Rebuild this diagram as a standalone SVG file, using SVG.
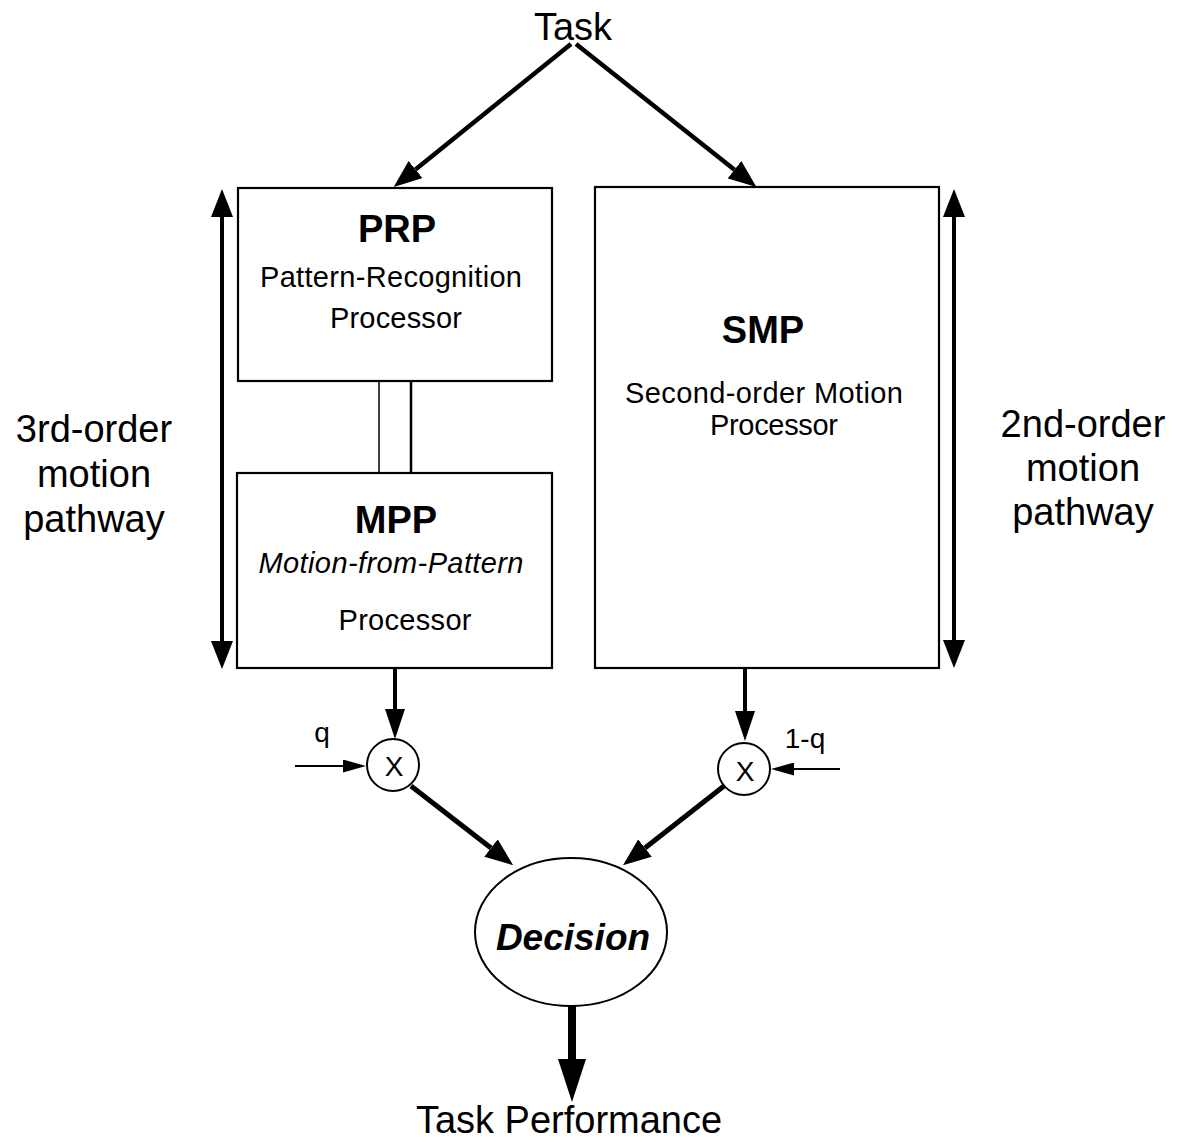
<svg xmlns="http://www.w3.org/2000/svg" width="1178" height="1148" viewBox="0 0 1178 1148">
<style>
text{font-family:"Liberation Sans",Arial,sans-serif;fill:#000;text-anchor:middle}
.big{font-size:38px}
.title{font-size:38px;font-weight:bold}
.sub{font-size:29px}
.it{font-style:italic}
.dec{font-size:37px;font-weight:bold;font-style:italic}
.sm{font-size:28px}
.box{fill:#fff;stroke:#000;stroke-width:2.2}
.ln{stroke:#000;fill:none}
</style>
<defs>
<marker id="arr" markerUnits="userSpaceOnUse" markerWidth="28" markerHeight="22" refX="0" refY="11" orient="auto-start-reverse" viewBox="0 0 28 22"><path d="M0,0 L28,11 L0,22 z" fill="#000"/></marker>
<marker id="arrD" markerUnits="userSpaceOnUse" markerWidth="30" markerHeight="20" refX="0" refY="10" orient="auto" viewBox="0 0 30 20"><path d="M0,0 L30,10 L0,20 z" fill="#000"/></marker>
<marker id="arrS" markerUnits="userSpaceOnUse" markerWidth="23" markerHeight="13" refX="0" refY="6.5" orient="auto" viewBox="0 0 23 13"><path d="M0,0 L23,6.5 L0,13 z" fill="#000"/></marker>
<marker id="arrB" markerUnits="userSpaceOnUse" markerWidth="43" markerHeight="28" refX="0" refY="14" orient="auto" viewBox="0 0 43 28"><path d="M0,0 L43,14 L0,28 z" fill="#000"/></marker>
</defs>
<rect width="1178" height="1148" fill="#fff"/>

<g id="task"><text class="big" x="573" y="40">Task</text></g>

<g id="PRP">
<rect class="box" x="238" y="188" width="314" height="193"/>
<text class="title" x="397" y="242">PRP</text>
<text class="sub" x="391" y="287" textLength="262" lengthAdjust="spacing">Pattern-Recognition</text>
<text class="sub" x="396" y="328" textLength="132" lengthAdjust="spacing">Processor</text>
</g>

<g id="MPP">
<rect class="box" x="237" y="473" width="315" height="195"/>
<text class="title" x="396" y="533">MPP</text>
<text class="sub it" x="391" y="573" textLength="265" lengthAdjust="spacing">Motion-from-Pattern</text>
<text class="sub" x="405" y="630" textLength="133" lengthAdjust="spacing">Processor</text>
</g>

<g id="SMP">
<rect class="box" x="595" y="187" width="344" height="481"/>
<text class="title" x="763" y="343">SMP</text>
<text class="sub" x="764" y="403" textLength="278" lengthAdjust="spacing">Second-order Motion</text>
<text class="sub" x="774" y="435" textLength="128" lengthAdjust="spacing">Processor</text>
</g>

<g id="label3rd">
<text class="big" x="94" y="442">3rd-order</text>
<text class="big" x="94" y="487">motion</text>
<text class="big" x="94" y="532">pathway</text>
</g>

<g id="label2nd">
<text class="big" x="1083" y="437">2nd-order</text>
<text class="big" x="1083" y="481">motion</text>
<text class="big" x="1083" y="525">pathway</text>
</g>

<g id="multQ">
<circle cx="393" cy="765" r="26" fill="#fff" stroke="#000" stroke-width="2"/>
<text class="sm" x="394" y="776">X</text>
<text class="sm" x="322" y="742">q</text>
</g>

<g id="mult1Q">
<circle cx="744" cy="769" r="26" fill="#fff" stroke="#000" stroke-width="2"/>
<text class="sm" x="745" y="781">X</text>
<text class="sm" x="805" y="748">1-q</text>
</g>

<g id="decision">
<ellipse cx="571" cy="932" rx="96" ry="74" fill="#fff" stroke="#000" stroke-width="2"/>
<text class="dec" x="573" y="950">Decision</text>
</g>

<g id="taskPerformance"><text class="big" x="569" y="1133">Task Performance</text></g>

<g id="connectors">
<line class="ln" x1="571" y1="44" x2="415.5" y2="169.5" stroke-width="4.5" marker-end="url(#arr)"/>
<line class="ln" x1="576" y1="44" x2="734.5" y2="169.7" stroke-width="4.5" marker-end="url(#arr)"/>
<line class="ln" x1="379" y1="381" x2="379" y2="473" stroke-width="1.5"/>
<line class="ln" x1="411" y1="381" x2="411" y2="473" stroke-width="2.5"/>
<line class="ln" x1="222" y1="217" x2="222" y2="641" stroke-width="4" marker-start="url(#arr)" marker-end="url(#arr)"/>
<line class="ln" x1="954" y1="217" x2="954" y2="640" stroke-width="4" marker-start="url(#arr)" marker-end="url(#arr)"/>
<line class="ln" x1="395" y1="668" x2="395" y2="709" stroke-width="4" marker-end="url(#arrD)"/>
<line class="ln" x1="745" y1="668" x2="745" y2="711" stroke-width="4" marker-end="url(#arrD)"/>
<line class="ln" x1="295" y1="766" x2="343" y2="766" stroke-width="2" marker-end="url(#arrS)"/>
<line class="ln" x1="840" y1="769" x2="794" y2="769" stroke-width="2" marker-end="url(#arrS)"/>
<line class="ln" x1="411" y1="786" x2="491" y2="848" stroke-width="5" marker-end="url(#arr)"/>
<line class="ln" x1="724" y1="786" x2="645" y2="848" stroke-width="5" marker-end="url(#arr)"/>
<line class="ln" x1="572" y1="1006" x2="572" y2="1059" stroke-width="8" marker-end="url(#arrB)"/>
</g>
</svg>
